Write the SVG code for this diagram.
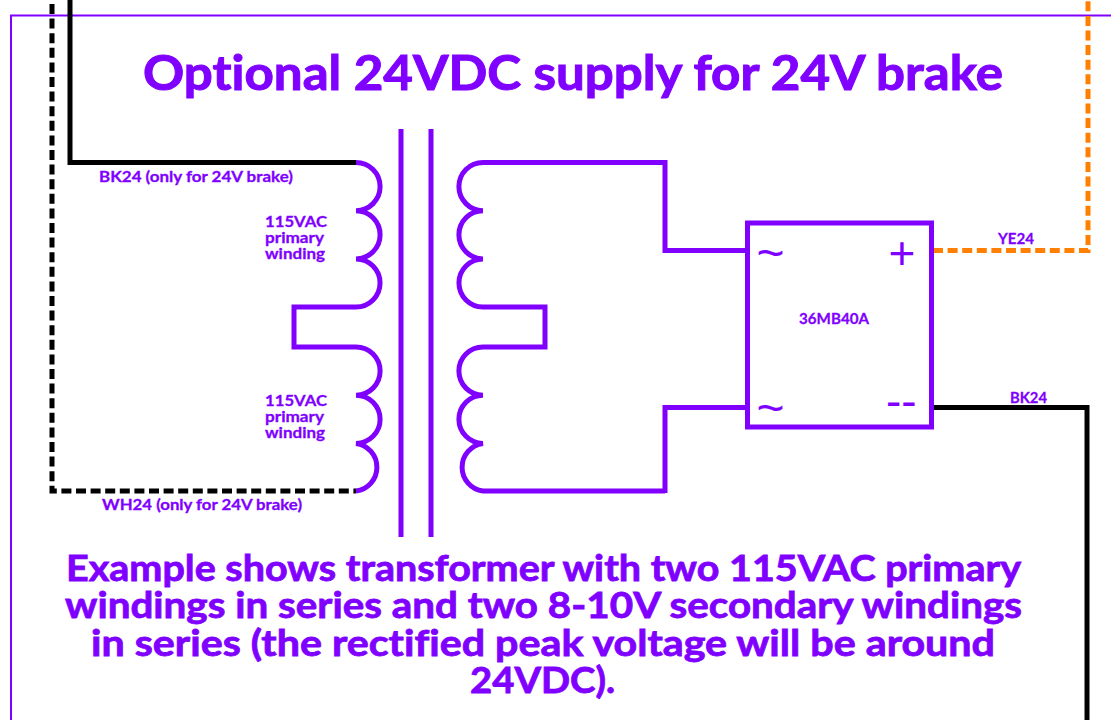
<svg xmlns="http://www.w3.org/2000/svg" width="1111" height="720" viewBox="0 0 1111 720">
<style>
text{font-family:"Lato","Liberation Sans",sans-serif;font-weight:700;fill:#8000ff;stroke:#8000ff;font-variant-ligatures:none}
.t{font-size:48px;stroke-width:1}
.s{font-size:15.5px;stroke-width:.3}
.b{font-size:37px;stroke-width:.8}
.w{fill:none;stroke:#8000ff;stroke-width:5}
.c{fill:none;stroke-width:5}
.sym{font-family:"Liberation Sans",sans-serif;font-weight:400;stroke:none}
</style>
<rect width="1111" height="720" fill="#fff"/>
<path d="M11 720V15.500H1111" fill="none" stroke="#8000ff" stroke-width="2"/>
<g id="connectors">
<path class="c" stroke="#000" d="M70 0V162.500H356"/>
<path class="c" stroke="#000" stroke-dasharray="10 4.600" d="M52 4V491H356"/>
<path class="c" stroke="#ff8000" stroke-dasharray="10 4.600" d="M933 250.500H1088V0"/>
<path class="c" stroke="#000" d="M931 407.500H1087V720"/>
<path class="w" d="M665 160V250.500H747"/>
<path class="w" d="M665 493V407.500H747"/>
</g>
<g id="title"><text class="t" x="143" y="90" textLength="860" lengthAdjust="spacingAndGlyphs">Optional 24VDC supply for 24V brake</text></g>
<g id="core"><path fill="none" stroke="#8000ff" stroke-width="5" d="M401 129V537M431 129V537"/></g>
<g id="primary">
<path class="w" d="M356 162.500A24 24 0 0 1 356 210.700A24 24 0 0 1 356 258.900A24 24 0 0 1 356 307H294V347H356A24 24 0 0 1 356 395.200A24 24 0 0 1 356 443.400A24 24 0 0 1 356 491"/>
<text class="s" x="99" y="182" textLength="194" lengthAdjust="spacingAndGlyphs">BK24 (only for 24V brake)</text>
<text class="s" x="265" y="227" textLength="62" lengthAdjust="spacingAndGlyphs">115VAC</text>
<text class="s" x="265" y="243" textLength="59" lengthAdjust="spacingAndGlyphs">primary</text>
<text class="s" x="265" y="259" textLength="60" lengthAdjust="spacingAndGlyphs">winding</text>
<text class="s" x="265" y="406" textLength="62" lengthAdjust="spacingAndGlyphs">115VAC</text>
<text class="s" x="265" y="422" textLength="59" lengthAdjust="spacingAndGlyphs">primary</text>
<text class="s" x="265" y="438" textLength="60" lengthAdjust="spacingAndGlyphs">winding</text>
<text class="s" x="102" y="510" textLength="200" lengthAdjust="spacingAndGlyphs">WH24 (only for 24V brake)</text>
</g>
<g id="secondary">
<path class="w" d="M665 162.500H483A24 24 0 0 0 483 210.700A24 24 0 0 0 483 258.900A24 24 0 0 0 483 307H545V347H483A24 24 0 0 0 483 395.200A24 24 0 0 0 483 443.400A24 24 0 0 0 483 491H665"/>
</g>
<g id="rectifier">
<rect class="w" x="747.500" y="223" width="184" height="204"/>
<text class="sym" font-size="48" x="756.500" y="269">~</text>
<text class="sym" font-size="48" x="756.500" y="424">~</text>
<text class="sym" font-size="46" x="888.500" y="269">+</text>
<text class="sym" font-size="46" x="886" y="417">--</text>
<text class="s" x="799" y="324" textLength="70" lengthAdjust="spacingAndGlyphs">36MB40A</text>
</g>
<g id="wire-labels">
<text class="s" x="998" y="244" textLength="36" lengthAdjust="spacingAndGlyphs">YE24</text>
<text class="s" x="1010" y="403" textLength="37" lengthAdjust="spacingAndGlyphs">BK24</text>
</g>
<g id="note">
<text class="b" x="66" y="581" textLength="955" lengthAdjust="spacingAndGlyphs">Example shows transformer with two 115VAC primary</text>
<text class="b" x="65" y="618" textLength="957" lengthAdjust="spacingAndGlyphs">windings in series and two 8-10V secondary windings</text>
<text class="b" x="91" y="656" textLength="904" lengthAdjust="spacingAndGlyphs">in series (the rectified peak voltage will be around</text>
<text class="b" x="470" y="693" textLength="145" lengthAdjust="spacingAndGlyphs">24VDC).</text>
</g>
</svg>
